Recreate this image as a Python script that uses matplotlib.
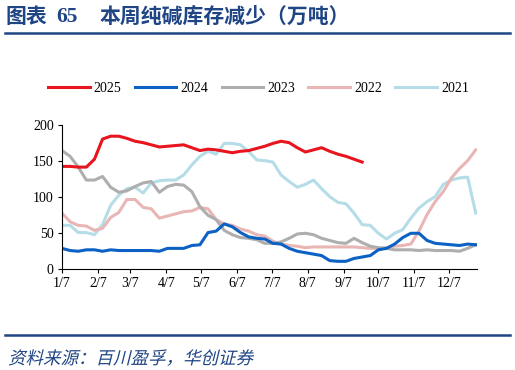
import numpy as np
import matplotlib
matplotlib.use('Agg')
from matplotlib import pyplot as plt
from matplotlib.lines import Line2D
from matplotlib.textpath import TextPath
from matplotlib.patches import PathPatch
from matplotlib.font_manager import FontProperties
from matplotlib.transforms import Affine2D

# weekly inventory, 万吨 (week i -> day 7 + 7*i)
inv_2025 = [142, 142, 141, 141, 152, 180, 184, 184, 181, 177, 175, 172, 169, 170,
            171, 172, 168, 164, 166, 165, 163, 161, 163, 164, 167, 170, 174, 177,
            175, 168, 162, 165, 168, 163, 159, 156, 152, 148]
inv_2024 = [28, 25, 24, 26, 26, 24, 26, 25, 25, 25, 25, 25, 24, 28,
            28, 28, 32, 33, 50, 52, 62, 58, 50, 44, 42, 41, 35, 34,
            28, 24, 22, 20, 18, 11, 10, 10, 14, 16, 18, 26, 28, 34,
            43, 49, 49, 39, 35, 34, 33, 32, 34, 33]
inv_2023 = [164, 156, 141, 123, 123, 128, 113, 106, 108, 114, 119, 121, 106, 114,
            117, 116, 107, 86, 74, 68, 53, 47, 43, 42, 40, 35, 35, 37,
            42, 48, 49, 47, 42, 39, 36, 35, 42, 36, 31, 29, 28, 26,
            26, 26, 25, 26, 25, 25, 25, 24, 28, 33]
inv_2022 = [77, 65, 60, 59, 53, 56, 71, 78, 96, 96, 85, 83, 70, 73,
            76, 79, 80, 85, 83, 68, 62, 60, 55, 52, 47, 45, 38, 34,
            32, 31, 29, 30, 30, 30, 30, 30, 30, 29, 28, 28, 29, 31,
            32, 34, 52, 75, 93, 107, 126, 139, 150, 165]
inv_2021 = [60, 60, 50, 50, 47, 61, 88, 102, 111, 113, 105, 119, 122, 123,
            123, 130, 144, 156, 163, 159, 174, 174, 172, 163, 151, 150, 148, 130,
            121, 113, 117, 123, 111, 100, 92, 90, 77, 61, 60, 49, 41, 49,
            54, 70, 84, 93, 100, 117, 123, 126, 127, 77]

years = ['2025', '2024', '2023', '2022', '2021']
colors = ['#E8141E', '#0B62C4', '#AEAEAE', '#E9B6B6', '#B5DDE8']
tick_days = [7, 38, 66, 97, 127, 158, 188, 219, 250, 280, 311, 341]
tick_labels = ['1/7', '2/7', '3/7', '4/7', '5/7', '6/7', '7/7', '8/7', '9/7', '10/7', '11/7', '12/7']

navy = '#1F4584'
cjk = ['Noto Sans CJK SC', 'DejaVu Sans']

fig = plt.figure(figsize=(5.15, 3.7), dpi=100)
ax = fig.add_axes([0.1204, 0.2743, 0.8056, 0.3887])

series = [inv_2021, inv_2022, inv_2023, inv_2024, inv_2025]
for vals, c in zip(series, colors[::-1]):
    days = 7 + 7 * np.arange(len(vals))
    ax.plot(days, vals, color=c, lw=2.2, solid_joinstyle='round')

ax.set_xlim(7, 365)
ax.set_ylim(0, 200)
ax.set_yticks([0, 50, 100, 150, 200])
ax.set_xticks(tick_days)
ax.set_xticklabels(tick_labels)
for s in ['top', 'right']:
    ax.spines[s].set_visible(False)
for s in ['left', 'bottom']:
    ax.spines[s].set_linewidth(0.8)
ax.tick_params(direction='out', length=3, width=0.8, labelsize=10, pad=3)
for lab in ax.get_xticklabels() + ax.get_yticklabels():
    lab.set_fontfamily('Liberation Serif')

handles = [Line2D([0], [0], color=c, lw=2.2) for c in colors]
leg = fig.legend(handles, years, loc='center', bbox_to_anchor=(0.502, 0.762), ncol=5,
                 frameon=False, handlelength=3.0, columnspacing=0.95, handletextpad=0.3,
                 prop={'family': 'Liberation Serif', 'size': 10})

# title and rules
fig.text(0.010, 0.955, '图表', family=cjk, fontsize=15, fontweight='bold',
         color=navy, va='center')
fig.text(0.11, 0.955, '65', family='Liberation Serif', fontsize=15.5, fontweight='bold',
         color=navy, va='center')
fig.text(0.194, 0.955, '本周纯碱库存减少（万吨）', family=cjk, fontsize=15,
         fontweight='bold', color=navy, va='center')
fig.add_artist(Line2D([0.01, 0.99], [0.911, 0.911], color=navy, lw=1.8))
fig.add_artist(Line2D([0.01, 0.99], [0.095, 0.095], color=navy, lw=1.8))

# slanted source note (pixel coordinates)
src = TextPath((0, 0), '资料来源：百川盈孚，华创证券', size=17.5,
               prop=FontProperties(family='Noto Sans CJK SC', weight='light'))
src_tr = Affine2D().skew_deg(14, 0).translate(8, 6)
fig.add_artist(PathPatch(src, transform=src_tr, color=navy, lw=0))

fig.savefig('out.png', dpi=100)
